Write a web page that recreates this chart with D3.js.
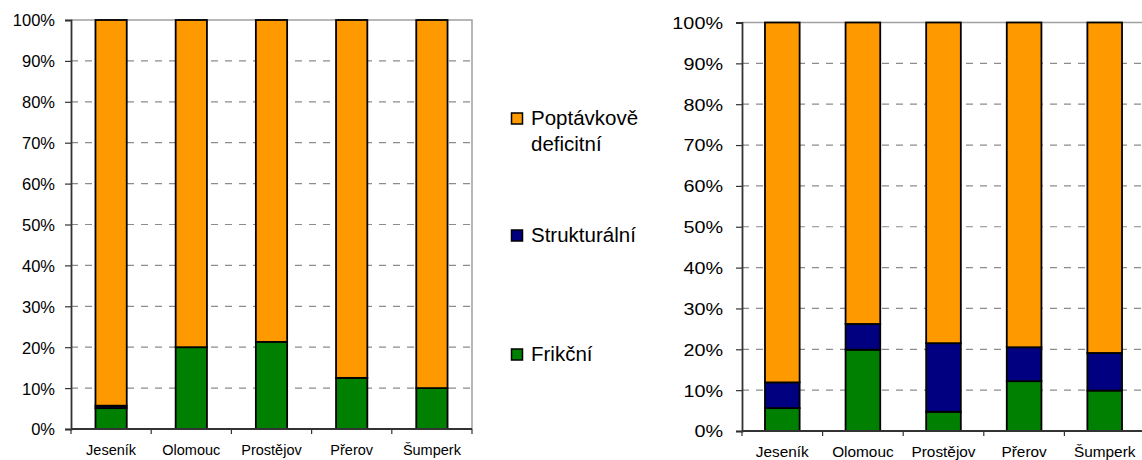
<!DOCTYPE html>
<html>
<head>
<meta charset="utf-8">
<script src="https://cdn.jsdelivr.net/npm/d3@7"></script>
<style>
  body { margin: 0; background: #fff; }
  svg { display: block; font-family: 'Liberation Sans', Arial, sans-serif; }
</style>
</head>
<body>
<svg id="chart" width="1142" height="460"></svg>
<script>
var categories = ['Jeseník', 'Olomouc', 'Prostějov', 'Přerov', 'Šumperk']
var keys = ['frikcni', 'strukturalni', 'poptavkove']
var seriesNames = {poptavkove: ['Poptávkově', 'deficitní'], strukturalni: ['Strukturální'], frikcni: ['Frikční']}
var colors = {frikcni: '#008000', strukturalni: '#000080', poptavkove: '#ff9900'}
var yTicks = [0, 10, 20, 30, 40, 50, 60, 70, 80, 90, 100]

// left chart
var leftFrikcni = [5.1, 20.0, 21.3, 12.5, 10.0]
var leftStrukturalni = [0.6, 0, 0, 0, 0]
var leftPoptavkove = [94.3, 80.0, 78.7, 87.5, 90.0]

// right chart
var rightFrikcni = [5.6, 19.9, 4.7, 12.2, 9.9]
var rightStrukturalni = [6.3, 6.3, 16.8, 8.3, 9.2]
var rightPoptavkove = [88.1, 73.8, 78.5, 79.5, 80.9]

var svg = d3.select('#chart')

function rows(fr, st, po) {
  return categories.map(function(c, i) {
    return {cat: c, frikcni: fr[i], strukturalni: st[i], poptavkove: po[i]}
  })
}

function drawChart(opt) {
  var x = d3.scaleBand().domain(categories).range([opt.x0, opt.x1]).paddingInner(opt.pad).paddingOuter(opt.pad / 2)
  var xb = d3.scaleBand().domain(categories).range([opt.x0, opt.x1])
  var y = d3.scaleLinear().domain([0, 100]).range([opt.y1, opt.y0])
  var g = svg.append('g')

  // grid
  g.selectAll('line.grid').data(yTicks.filter(function(t) { return t > 0 && t < 100 }))
    .enter().append('line')
    .attr('x1', opt.x0).attr('x2', opt.x1)
    .attr('y1', function(d) { return y(d) }).attr('y2', function(d) { return y(d) })
    .attr('stroke', '#8c8c8c').attr('stroke-width', 1.2).attr('stroke-dasharray', '7,7')

  // frame top/right
  g.append('path')
    .attr('d', 'M' + opt.x0 + ',' + y(100) + 'H' + opt.x1 + 'V' + y(0))
    .attr('fill', 'none').attr('stroke', '#a0a0a0').attr('stroke-width', 1.5)

  var stacked = d3.stack().keys(keys)(opt.data)
  g.selectAll('g.series').data(stacked).enter().append('g')
    .attr('fill', function(d) { return colors[d.key] })
    .selectAll('rect').data(function(d) { return d }).enter().append('rect')
    .attr('x', function(d) { return x(d.data.cat) })
    .attr('width', x.bandwidth())
    .attr('y', function(d) { return y(d[1]) })
    .attr('height', function(d) { return y(d[0]) - y(d[1]) })
    .attr('stroke', '#000').attr('stroke-width', 1.8)

  // axes
  var ya = g.append('g').attr('transform', 'translate(' + opt.x0 + ',0)')
    .call(d3.axisLeft(y).tickValues(yTicks).tickSize(6).tickFormat(function(d) { return d + '%' }))
  ya.select('.domain').attr('stroke', '#333').attr('stroke-width', 1.8)
  ya.selectAll('.tick line').attr('stroke', '#333').attr('stroke-width', 1.2)
  ya.selectAll('.tick text').attr('font-size', '16.5px').attr('fill', '#000')
    .attr('font-family', 'Liberation Sans, Arial, sans-serif')
    .attr('x', -opt.labelGap).attr('dy', '0.36em')
    .attr('transform', 'scale(' + opt.ySx + ',1)')
    .attr('x', -opt.labelGap / opt.ySx)

  var xa = g.append('g').attr('transform', 'translate(0,' + opt.y1 + ')')
  xa.append('line').attr('x1', opt.x0).attr('x2', opt.x1).attr('stroke', '#333').attr('stroke-width', 1.8)
  xa.selectAll('line.t').data(categories.concat(['end'])).enter().append('line')
    .attr('x1', function(d, i) { return opt.x0 + i * xb.bandwidth() })
    .attr('x2', function(d, i) { return opt.x0 + i * xb.bandwidth() })
    .attr('y1', 0).attr('y2', 5).attr('stroke', '#333').attr('stroke-width', 1.2)
  xa.selectAll('text').data(categories).enter().append('text')
    .attr('transform', function(d) { return 'translate(' + (xb(d) + xb.bandwidth() / 2) + ',' + opt.catY + ') scale(' + opt.xSx + ',1)' })
    .attr('text-anchor', 'middle').attr('font-size', '14.5px').attr('fill', '#000')
    .text(function(d) { return d })
}

drawChart({data: rows(leftFrikcni, leftStrukturalni, leftPoptavkove),
  x0: 71, x1: 472, y0: 20, y1: 429, pad: 0.61, labelGap: 16, ySx: 1, xSx: 1, catY: 26})
drawChart({data: rows(rightFrikcni, rightStrukturalni, rightPoptavkove),
  x0: 742, x1: 1145, y0: 22.5, y1: 431, pad: 0.57, labelGap: 19, ySx: 1.2, xSx: 1.06, catY: 26})

// legend
var legendOrder = ['poptavkove', 'strukturalni', 'frikcni']
var legendY = {poptavkove: 125, strukturalni: 242, frikcni: 361}
var lg = svg.append('g').selectAll('g').data(legendOrder).enter().append('g')
  .attr('transform', function(d) { return 'translate(511,' + legendY[d] + ')' })
lg.append('rect').attr('x', 0.5).attr('y', -12).attr('width', 11).attr('height', 11)
  .attr('fill', function(d) { return colors[d] }).attr('stroke', '#000').attr('stroke-width', 1.5)
lg.append('text').attr('x', 20).attr('font-size', '20.5px').attr('fill', '#000')
  .selectAll('tspan').data(function(d) { return seriesNames[d] }).enter().append('tspan')
  .attr('x', 20).attr('dy', function(d, i) { return i ? 26 : 0 })
  .text(function(d) { return d })
</script>
</body>
</html>
